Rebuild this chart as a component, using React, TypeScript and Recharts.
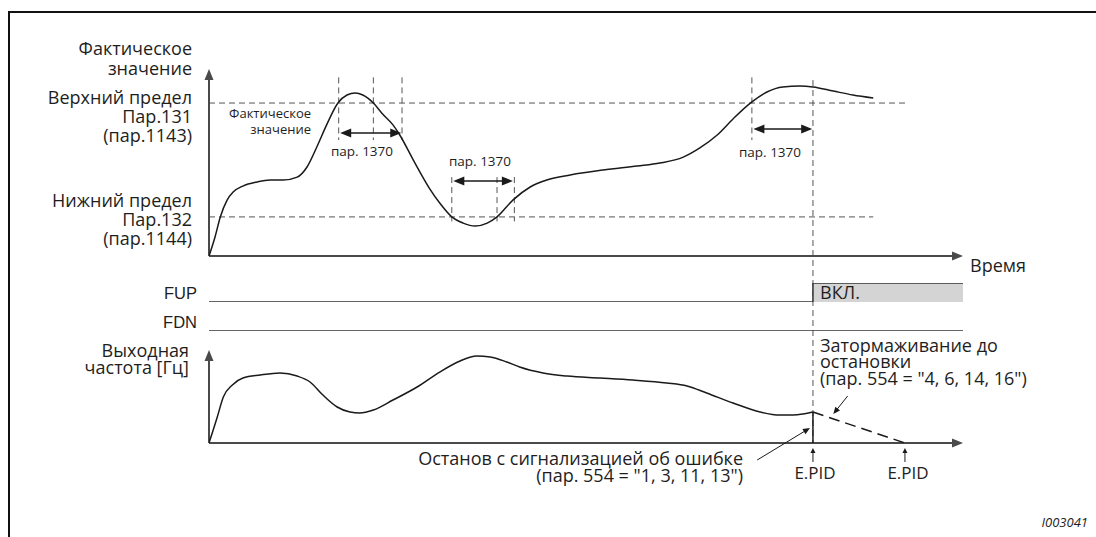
import { ComposedChart, Line, Area, XAxis, YAxis, ReferenceLine } from "recharts";

const W = 1096;
const H = 537;
const LEFT = 209;
const RIGHT = 963;

// actual value (top trace): time 0..100 along the time arrow, value 0..100 up the value arrow
const pvTime = [0, 0.8, 1.5, 2.4, 3.2, 4.5, 6.4, 8.1, 9.8, 11.7, 13.0, 14.3, 15.6, 17.1, 18.3, 19.4, 20.4, 21.8, 22.9, 24.4, 25.3, 27.1, 29.3, 30.6, 32.2, 33.7, 35.3, 36.9, 38.2, 40.3, 42.6, 44.8, 47.9, 52.3, 56.8, 59.8, 62.9, 65.1, 67.4, 69.5, 72.0, 74.0, 76.1, 78.4, 80.1, 82.8, 85.4, 88.1];
const pvValue = [0, 10.2, 20.9, 29.9, 34.2, 37.4, 39.6, 40.6, 40.6, 42.2, 47.6, 58.3, 70.1, 81.8, 86.1, 87.2, 86.1, 81.8, 76.5, 70.1, 64.7, 51.3, 35.8, 28.3, 20.9, 17.6, 16.0, 17.6, 20.9, 29.9, 36.9, 40.6, 43.3, 46.0, 48.1, 49.7, 52.9, 57.8, 64.7, 73.3, 82.4, 87.7, 90.4, 90.9, 90.4, 88.2, 86.1, 84.5];

// output frequency (bottom trace)
const hzTime = [0, 1.1, 1.9, 3.1, 4.5, 6.8, 9.4, 11.7, 13.4, 15.1, 17.0, 18.7, 20.0, 21.8, 24.4, 27.6, 30.6, 33.3, 35.5, 37.3, 39.5, 41.2, 44.3, 47.5, 51.9, 56.2, 60.7, 63.4, 66.0, 69.5, 73.1, 75.7, 77.5, 78.8, 80.1];
const hzValue = [0, 28.0, 49.5, 62.4, 69.9, 73.1, 75.3, 72.0, 65.6, 51.6, 38.7, 33.3, 32.3, 35.5, 46.2, 60.2, 76.3, 88.2, 93.5, 92.5, 87.1, 81.7, 75.3, 72.0, 69.9, 67.7, 64.5, 61.3, 53.8, 43.0, 33.3, 30.1, 30.1, 31.2, 33.3];

const upperLimit = 81.8; // Пар.131
const lowerLimit = 20.9; // Пар.132
const upperLimitEnd = 92.7;
const lowerLimitEnd = 88.1;
const tripTime = 80.1; // E.PID, FUP on
const stopTime = 92.3; // end of deceleration
const tripHz = hzValue[hzValue.length - 1];

// пар. 1370 windows and the limit crossings marked by dashed verticals
const windows = [
  [17.4, 25.5],
  [32.4, 40.3],
  [72.2, 80.0],
];
const upperMarks = [17.2, 21.8, 25.6, 72.0];
const lowerMarks = [32.2, 38.2, 40.5];

const pvData = pvTime.map((t, i) => ({ t, v: pvValue[i] }));
const hzData = hzTime.map((t, i) => ({ t, v: hzValue[i] }));
const fupData = [
  { t: 0, v: 0 },
  { t: tripTime, v: 1 },
  { t: 100, v: 1 },
];
const fdnData = [
  { t: 0, v: 0 },
  { t: 100, v: 0 },
];
const dropData = [
  { t: tripTime, v: tripHz },
  { t: tripTime, v: 0 },
];
const decelData = [
  { t: tripTime, v: tripHz },
  { t: stopTime, v: 0 },
];

// annotation layout (value units of each panel)
const windowLevels = [65.8, 40.1, 67.9];

const tri = (tx: number, ty: number, fx: number, fy: number, len: number, half: number) => {
  const a = Math.atan2(ty - fy, tx - fx);
  const bx = tx - len * Math.cos(a);
  const by = ty - len * Math.sin(a);
  const s = Math.sin(a);
  const c = Math.cos(a);
  return `${tx},${ty} ${bx + half * s},${by - half * c} ${bx - half * s},${by + half * c}`;
};

// reference line shape with arrow heads
const arrow = (endLen: number, startLen = 0, half = 4) => (p: any) => {
  const { x1, y1, x2, y2, stroke, strokeWidth, strokeDasharray } = p;
  const a = Math.atan2(y2 - y1, x2 - x1);
  const sx = x1 + (startLen / 2) * Math.cos(a);
  const sy = y1 + (startLen / 2) * Math.sin(a);
  const ex = x2 - (endLen / 2) * Math.cos(a);
  const ey = y2 - (endLen / 2) * Math.sin(a);
  return (
    <g>
      <line x1={sx} y1={sy} x2={ex} y2={ey} stroke={stroke} strokeWidth={strokeWidth} strokeDasharray={strokeDasharray} />
      {endLen > 0 && <polygon points={tri(x2, y2, x1, y1, endLen, half)} fill={stroke} />}
      {startLen > 0 && <polygon points={tri(x1, y1, x2, y2, startLen, half)} fill={stroke} />}
    </g>
  );
};

const Panel = ({ top, bottom, yMax = 100, children }: any) => (
  <div style={{ position: "absolute", left: 0, top: 0 }}>
    <ComposedChart width={W} height={H} margin={{ top, bottom: H - bottom, left: LEFT, right: W - RIGHT }}>
      <XAxis type="number" dataKey="t" domain={[0, 100]} allowDataOverflow hide />
      <YAxis type="number" domain={[0, yMax]} allowDataOverflow hide />
      {children}
    </ComposedChart>
  </div>
);

const AXIS = "#4a4a4a";
const DASH = "#555";
const INK = "#1a1a1a";

const T = ({ x, y, a = "start", s = 18, f = "'Open Sans', sans-serif", it = false, children }: any) => (
  <text x={x} y={y} textAnchor={a} fontSize={s} fontFamily={f} fontStyle={it ? "italic" : "normal"} fill="#1e1e1e">
    {children}
  </text>
);

export default function App() {
  return (
    <div style={{ position: "absolute", left: 0, top: 0, width: W, height: H, background: "#fff", overflow: "hidden" }}>
      <div style={{ position: "absolute", left: 8, top: 11, width: W, height: H, borderTop: "2px solid #111", borderLeft: "2px solid #111" }} />

      {/* actual value */}
      <Panel top={69} bottom={256}>
        <ReferenceLine segment={[{ x: 0, y: upperLimit }, { x: upperLimitEnd, y: upperLimit }]} stroke={DASH} strokeDasharray="6 4" ifOverflow="visible" />
        <ReferenceLine segment={[{ x: 0, y: lowerLimit }, { x: lowerLimitEnd, y: lowerLimit }]} stroke={DASH} strokeDasharray="6 4" ifOverflow="visible" />
        {upperMarks.map((t) => (
          <ReferenceLine key={`u${t}`} segment={[{ x: t, y: 95.5 }, { x: t, y: 62 }]} stroke={DASH} strokeDasharray="6 4" ifOverflow="visible" />
        ))}
        {lowerMarks.map((t) => (
          <ReferenceLine key={`l${t}`} segment={[{ x: t, y: 42.2 }, { x: t, y: 18.5 }]} stroke={DASH} strokeDasharray="6 4" ifOverflow="visible" />
        ))}
        <ReferenceLine segment={[{ x: tripTime, y: 94.1 }, { x: tripTime, y: -100 }]} stroke={DASH} strokeDasharray="6 4" ifOverflow="visible" />
        {windows.map(([a, b], i) => (
          <ReferenceLine key={`w${i}`} segment={[{ x: a, y: windowLevels[i] }, { x: b, y: windowLevels[i] }]} stroke={INK} strokeWidth={1.5} shape={arrow(11, 11, 4.5)} ifOverflow="visible" />
        ))}
        <ReferenceLine segment={[{ x: 0, y: 0 }, { x: 100, y: 0 }]} stroke={AXIS} strokeWidth={2} shape={arrow(11, 0, 4.5)} ifOverflow="visible" />
        <ReferenceLine segment={[{ x: 0, y: 0 }, { x: 0, y: 100 }]} stroke={AXIS} strokeWidth={2} shape={arrow(11, 0, 4.5)} ifOverflow="visible" />
        <Line data={pvData} dataKey="v" type="monotone" dot={false} stroke={INK} strokeWidth={1.5} isAnimationActive={false} />
      </Panel>

      {/* FUP */}
      <Panel top={283} bottom={302} yMax={1}>
        <Area data={fupData} dataKey="v" type="stepAfter" stroke="#333" strokeWidth={1.5} fill="#d4d4d4" fillOpacity={1} dot={false} isAnimationActive={false} />
      </Panel>

      {/* FDN */}
      <Panel top={312} bottom={331} yMax={1}>
        <Line data={fdnData} dataKey="v" type="linear" stroke="#333" strokeWidth={1.5} dot={false} isAnimationActive={false} />
      </Panel>

      {/* output frequency */}
      <Panel top={350} bottom={443}>
        <ReferenceLine segment={[{ x: 0, y: 0 }, { x: 100, y: 0 }]} stroke={AXIS} strokeWidth={2} shape={arrow(11, 0, 4.5)} ifOverflow="visible" />
        <ReferenceLine segment={[{ x: 0, y: 0 }, { x: 0, y: 100 }]} stroke={AXIS} strokeWidth={2} shape={arrow(11, 0, 4.5)} ifOverflow="visible" />
        <ReferenceLine segment={[{ x: tripTime, y: -20.4 }, { x: tripTime, y: -5.4 }]} stroke={INK} strokeWidth={1} shape={arrow(5, 0, 2.5)} ifOverflow="visible" />
        <ReferenceLine segment={[{ x: stopTime, y: -20.4 }, { x: stopTime, y: -5.4 }]} stroke={INK} strokeWidth={1} shape={arrow(5, 0, 2.5)} ifOverflow="visible" />
        <ReferenceLine segment={[{ x: 72.7, y: -18.3 }, { x: 79.7, y: 16.1 }]} stroke={INK} strokeWidth={1} shape={arrow(7, 0, 3)} ifOverflow="visible" />
        <ReferenceLine segment={[{ x: 84.7, y: 50.5 }, { x: 82.8, y: 31.2 }]} stroke={INK} strokeWidth={1} shape={arrow(7, 0, 3)} ifOverflow="visible" />
        <Line data={hzData} dataKey="v" type="monotone" dot={false} stroke={INK} strokeWidth={1.5} isAnimationActive={false} />
        <Line data={dropData} dataKey="v" type="linear" dot={false} stroke={INK} strokeWidth={1.5} isAnimationActive={false} />
        <Line data={decelData} dataKey="v" type="linear" dot={false} stroke={INK} strokeWidth={1.5} strokeDasharray="11 6" isAnimationActive={false} />
      </Panel>

      <svg width={W} height={H} style={{ position: "absolute", left: 0, top: 0, pointerEvents: "none" }}>
        <T x={192} y={55} a="end">Фактическое</T>
        <T x={192} y={75} a="end">значение</T>
        <T x={192} y={104} a="end">Верхний предел</T>
        <T x={192} y={123} a="end">Пар.131</T>
        <T x={192} y={142} a="end">(пар.1143)</T>
        <T x={192} y={207} a="end">Нижний предел</T>
        <T x={192} y={226} a="end">Пар.132</T>
        <T x={192} y={245} a="end">(пар.1144)</T>

        <T x={311} y={118} a="end" s={13}>Фактическое</T>
        <T x={311} y={134} a="end" s={13}>значение</T>
        <T x={362} y={156} a="middle" s={13.5}>пар. 1370</T>
        <T x={480} y={166} a="middle" s={13.5}>пар. 1370</T>
        <T x={770} y={157} a="middle" s={13.5}>пар. 1370</T>

        <T x={970} y={272}>Время</T>
        <T x={197} y={299} a="end" s={16.5} f="'Liberation Sans', Arial, sans-serif">FUP</T>
        <T x={197} y={328} a="end" s={16.5} f="'Liberation Sans', Arial, sans-serif">FDN</T>
        <T x={820} y={299}>ВКЛ.</T>

        <T x={189} y={357} a="end">Выходная</T>
        <T x={189} y={374} a="end">частота [Гц]</T>

        <T x={820} y={352}>Затормаживание до</T>
        <T x={820} y={368}>остановки</T>
        <T x={820} y={385}>(пар. 554 = "4, 6, 14, 16")</T>

        <T x={743} y={465} a="end">Останов с сигнализацией об ошибке</T>
        <T x={743} y={482} a="end">(пар. 554 = "1, 3, 11, 13")</T>

        <T x={815} y={479} a="middle" s={17}>E.PID</T>
        <T x={908} y={479} a="middle" s={17}>E.PID</T>

        <T x={1088} y={527} a="end" s={13} it>I003041</T>
      </svg>
    </div>
  );
}
